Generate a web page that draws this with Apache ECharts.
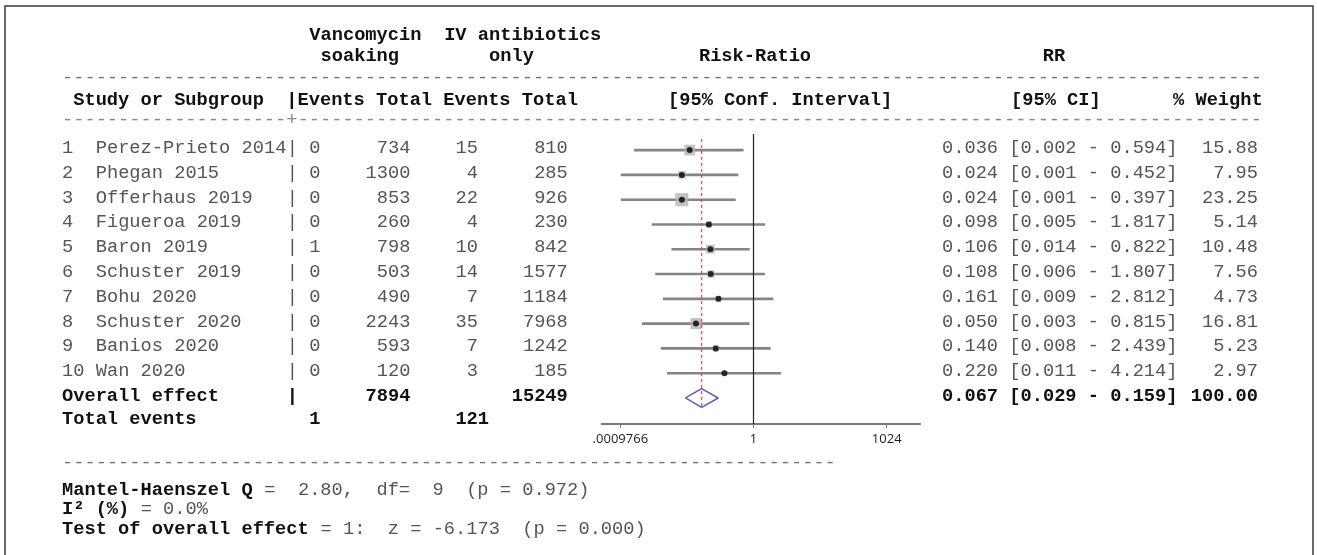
<!DOCTYPE html>
<html><head><meta charset="utf-8">
<script src="https://cdn.jsdelivr.net/npm/echarts@6/dist/echarts.min.js"></script>
<style>html,body{margin:0;padding:0;background:#fff;}#c{width:1317px;height:555px;}</style>
</head><body><div id="c"></div>
<script>
// ---- data ----
const studies = ['Perez-Prieto 2014','Phegan 2015','Offerhaus 2019','Figueroa 2019','Baron 2019','Schuster 2019','Bohu 2020','Schuster 2020','Banios 2020','Wan 2020'];
const vancEvents = [0,0,0,0,1,0,0,0,0,0];
const vancTotal = [734,1300,853,260,798,503,490,2243,593,120];
const ivEvents = [15,4,22,4,10,14,7,35,7,3];
const ivTotal = [810,285,926,230,842,1577,1184,7968,1242,185];
const rr = [0.036,0.024,0.024,0.098,0.106,0.108,0.161,0.050,0.140,0.220];
const ciLow = [0.002,0.001,0.001,0.005,0.014,0.006,0.009,0.003,0.008,0.011];
const ciHigh = [0.594,0.452,0.397,1.817,0.822,1.807,2.812,0.815,2.439,4.214];
const weight = [15.88,7.95,23.25,5.14,10.48,7.56,4.73,16.81,5.23,2.97];
const overallRR = [0.067];
const overallLow = [0.029];
const overallHigh = [0.159];
const overallWeight = [100.00];
const totalVancPatients = [7894];
const totalIvPatients = [15249];
const totalVancEvents = [1];
const totalIvEvents = [121];
const xTickValues = [0.0009765625, 1, 1024];
const xTickLabels = ['.0009766', '1', '1024'];
const statLines = [
  ['Mantel-Haenszel Q', ' =  2.80,  df=  9  (p = 0.972)'],
  ['I\u00b2 (%)', ' = 0.0%'],
  ['Test of overall effect', ' = 1:  z = -6.173  (p = 0.000)']
];

// ---- layout helpers ----
const X0 = 62, CW = 11.24;
const FS = 18.7;
const MONO = '"Liberation Mono", "Courier New", monospace';
const GRAY = '#555', BLACK = '#111';
const cx = c => X0 + c * CW;
const rowY = i => 148 + 24.8 * i;

const els = [];
function txt(s, x, y, opt) {
  opt = opt || {};
  els.push({
    type: 'text', silent: true,
    style: {
      text: s, x: x, y: y,
      fontFamily: opt.family || MONO,
      fontSize: opt.size || FS,
      fontWeight: opt.bold ? 'bold' : 'normal',
      fill: opt.color || (opt.bold ? BLACK : GRAY),
      textAlign: opt.align || 'left', align: opt.align || 'left',
      textVerticalAlign: 'middle', verticalAlign: 'middle'
    }
  });
}

// border
els.push({type:'rect', silent:true, shape:{x:5, y:6, width:1308, height:560},
  style:{fill:null, stroke:'#3a3a3a', lineWidth:1.5}});

// header
txt('Vancomycin', cx(22), 35, {bold:true});
txt('IV antibiotics', cx(34), 35, {bold:true});
txt('soaking', cx(23), 56, {bold:true});
txt('only', cx(38), 56, {bold:true});
txt('Risk-Ratio', 755, 56, {bold:true, align:'center'});
txt('RR', 1054, 56, {bold:true, align:'center'});
txt('-'.repeat(107), cx(0), 78, {color:'#777'});
txt(' Study or Subgroup  |Events Total Events Total', cx(0), 100, {bold:true});
txt('[95% Conf. Interval]', 668, 100, {bold:true});
txt('[95% CI]', 1011, 100, {bold:true});
txt('% Weight', 1173, 100, {bold:true});
txt('-'.repeat(20) + '+' + '-'.repeat(86), cx(0), 120, {color:'#888'});

// rows
studies.forEach((s, i) => {
  const y = rowY(i);
  txt(String(i + 1), cx(0), y);
  txt(s, cx(3), y);
  txt('|', cx(20), y);
  txt(String(vancEvents[i]), cx(22), y);
  txt(String(vancTotal[i]), cx(31), y, {align:'right'});
  txt(String(ivEvents[i]), cx(37), y, {align:'right'});
  txt(String(ivTotal[i]), cx(45), y, {align:'right'});
  txt(rr[i].toFixed(3) + ' [' + ciLow[i].toFixed(3) + ' - ' + ciHigh[i].toFixed(3) + ']', 942, y);
  txt(weight[i].toFixed(2), 1258, y, {align:'right'});
});
const yo = rowY(10);
txt('Overall effect', cx(0), yo, {bold:true});
txt('|', cx(20), yo, {bold:true});
txt(String(totalVancPatients[0]), cx(31), yo, {bold:true, align:'right'});
txt(String(totalIvPatients[0]), cx(45), yo, {bold:true, align:'right'});
txt(overallRR[0].toFixed(3) + ' [' + overallLow[0].toFixed(3) + ' - ' + overallHigh[0].toFixed(3) + ']', 942, yo, {bold:true});
txt(overallWeight[0].toFixed(2), 1258, yo, {bold:true, align:'right'});
const yt = rowY(11) - 2;
txt('Total events', cx(0), yt, {bold:true});
txt(String(totalVancEvents[0]), cx(22), yt, {bold:true});
txt(String(totalIvEvents[0]), cx(35), yt, {bold:true});

// bottom stats
txt('-'.repeat(69), cx(0), 463, {color:'#777'});
statLines.forEach((l, k) => {
  const y = 490 + 19.5 * k;
  txt(l[0], cx(0), y, {bold:true});
  txt(l[1], cx(l[0].length), y);
});

// ---- forest plot data (log2 scale) ----
const L = Math.log2;
const ciData = studies.map((s, i) => [L(ciLow[i]), L(ciHigh[i]), i + 1]);
const pointData = studies.map((s, i) => [L(rr[i]), i + 1, weight[i]]);
const dr = 11, dh = 0.38;
const diamond = [
  [L(overallLow[0]), dr], [L(overallRR[0]), dr - dh], [L(overallHigh[0]), dr],
  [L(overallRR[0]), dr + dh], [L(overallLow[0]), dr]
];
const tickLog = xTickValues.map(v => Math.round(L(v)));

const chart = echarts.init(document.getElementById('c'), null, {renderer:'canvas'});
chart.setOption({
  backgroundColor: '#fff',
  animation: false,
  grid: {left: 601.7, right: 397, top: 134, bottom: 131},
  xAxis: {
    type: 'value', min: -11.4, max: 12.5,
    axisLine: {show: true, onZero: false, lineStyle: {color: '#7a7a7a', width: 2}},
    axisTick: {show: true, length: 4, customValues: tickLog, lineStyle: {color: '#777'}},
    axisLabel: {
      customValues: tickLog, margin: 9, color: '#222', fontSize: 13,
      fontFamily: '"Open Sans", "Noto Sans", sans-serif',
      formatter: v => xTickLabels[tickLog.indexOf(Math.round(v))] || ''
    },
    splitLine: {show: false}
  },
  yAxis: {type: 'value', inverse: true, min: 0.35, max: 12.05, show: false},
  graphic: {elements: els},
  series: [
    {
      type: 'custom', data: ciData, silent: true, z: 2,
      renderItem: (params, api) => {
        const a = api.coord([api.value(0), api.value(2)]);
        const b = api.coord([api.value(1), api.value(2)]);
        return {type: 'line', shape: {x1: a[0], y1: a[1], x2: b[0], y2: b[1]},
          style: {stroke: '#848484', lineWidth: 2.6}};
      },
      markLine: {
        silent: true, symbol: 'none', label: {show: false},
        lineStyle: {color: '#222', type: 'solid', width: 1.2},
        data: [{xAxis: 0}]
      }
    },
    {
      type: 'line', data: [[L(overallRR[0]), 0.55], [L(overallRR[0]), 11.4]],
      symbol: 'none', silent: true, z: 6,
      lineStyle: {color: '#e0406e', type: [3, 3], width: 1.4, opacity: 0.9}
    },
    {
      type: 'scatter', data: pointData, symbol: 'rect', silent: true, z: 4,
      symbolSize: d => Math.sqrt(d[2]) * 2.7,
      itemStyle: {color: '#b3b3b3'}
    },
    {
      type: 'scatter', data: pointData, symbol: 'circle', symbolSize: 6, silent: true, z: 5,
      itemStyle: {color: '#000'}
    },
    {
      type: 'line', data: diamond, symbol: 'none', silent: true, z: 5,
      lineStyle: {color: '#5c5cb0', width: 1.5}
    }
  ]
});
</script>
</body></html>
